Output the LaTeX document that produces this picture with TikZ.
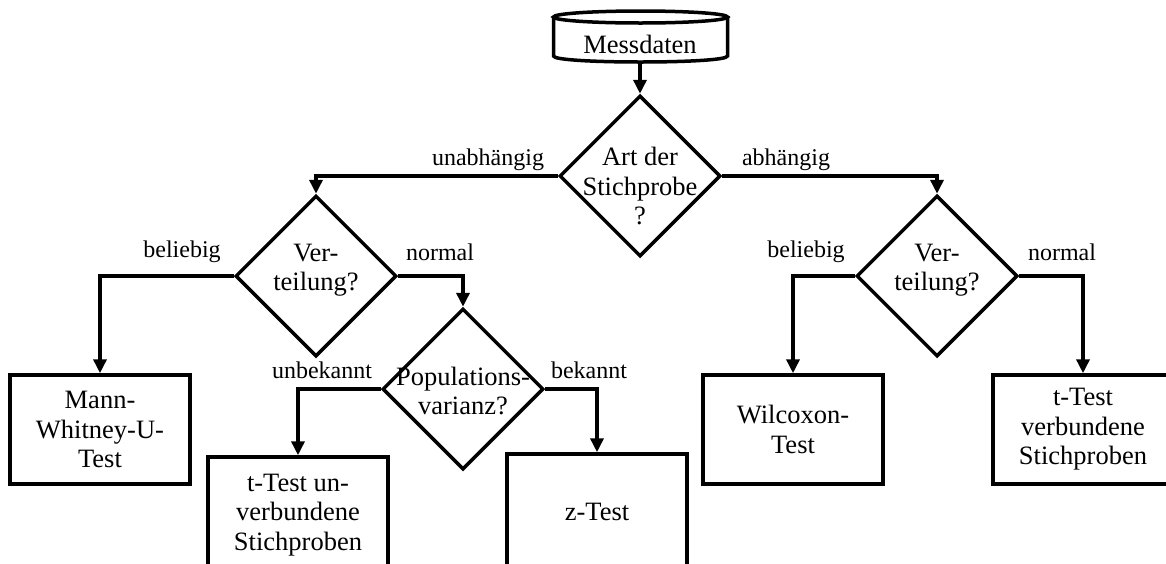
\documentclass[tikz,border=0pt]{standalone}
\usepackage{fontspec}
\setmainfont{Liberation Serif}
\usetikzlibrary{shapes.geometric,arrows.meta}
\newcommand\nodefnt{\fontsize{26.5}{29.5}\selectfont}
\newcommand\lblfnt{\fontsize{24}{28}\selectfont}
\begin{document}
\begin{tikzpicture}[x=1pt,y=-1pt,
  lw/.style={line width=3.5pt},
  dia/.style={diamond, draw, lw, inner sep=0pt, minimum width=161pt, minimum height=161pt},
  box/.style={draw, lw, inner sep=0pt, minimum width=180pt, align=center, font=\nodefnt},
  txt/.style={align=center, inner sep=0pt, font=\nodefnt},
  lbl/.style={anchor=base, inner sep=0pt, font=\lblfnt},
  arr/.style={lw, -{Triangle[length=14pt,width=13pt]}}]
\useasboundingbox (0,0) rectangle (1166,563);
\fill[white] (0,0) rectangle (1166,563);
\clip (0,0) rectangle (1166,563);

% cylinder
\draw[lw] (640.5,17) ellipse [x radius=87, y radius=6];
\draw[lw] (553.5,17) -- (553.5,56) .. controls (553.5,64) and (727.5,64) .. (727.5,56) -- (727.5,17);
\node[txt] (mess) at (640,44) {Messdaten};
\coordinate (messB) at (640,62);

% diamonds
\node[dia] (art) at (640,176) {};
\node[txt] (artT) at (640,186) {Art der\\Stichprobe\\?};
\node[dia] (vl) at (316,276) {};
\node[txt] (vlT) at (316,270) {Ver-\\teilung?};
\node[dia] (vr) at (937,276) {};
\node[txt] (vrT) at (937,270) {Ver-\\teilung?};
\node[dia] (pop) at (463,389) {};
\node[txt] (popT) at (463,391) {Populations-\\varianz?};

% boxes
\node[box, minimum height=109pt] (mann) at (100,429.5) {Mann-\\Whitney-U-\\Test};
\node[box, minimum height=116pt] (tun) at (298,515) {t-Test un-\\verbundene\\Stichproben};
\node[box, minimum height=116pt] (z) at (597,512) {z-Test};
\node[box, minimum height=109pt] (wil) at (793,429.5) {Wilcoxon-\\Test};
\node[box, minimum height=109pt] (tver) at (1083,429.5) {t-Test\\verbundene\\Stichproben};

% connectors
\draw[arr] (messB) -- (art.north);
\draw[arr] (art.west) -| (vl.north);
\draw[arr] (art.east) -| (vr.north);
\draw[arr] (vl.west) -| (mann.north);
\draw[arr] (vl.east) -| (pop.north);
\draw[arr] (pop.west) -| (tun.north);
\draw[arr] (pop.east) -| (z.north);
\draw[arr] (vr.west) -| (wil.north);
\draw[arr] (vr.east) -| (tver.north);

% labels
\node[lbl] (l1) at (488,165) {unabhängig};
\node[lbl] (l2) at (786,165) {abhängig};
\node[lbl] (l3) at (182,257) {beliebig};
\node[lbl] (l4) at (440,260) {normal};
\node[lbl] (l5) at (806,257) {beliebig};
\node[lbl] (l6) at (1062,260) {normal};
\node[lbl] (l7) at (322,378) {unbekannt};
\node[lbl] (l8) at (589,378) {bekannt};
\end{tikzpicture}
\end{document}
